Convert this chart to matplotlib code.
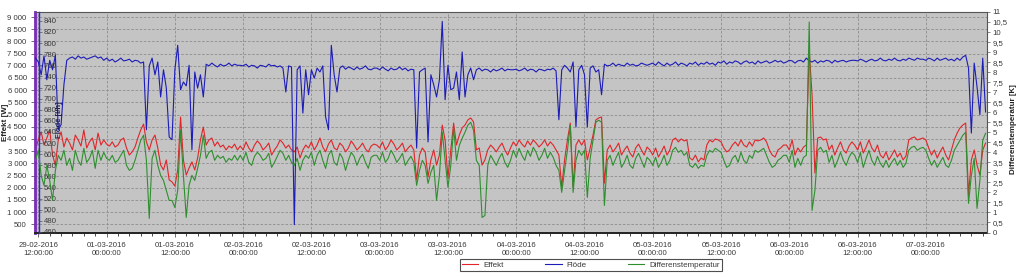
import matplotlib
matplotlib.use('Agg')
import matplotlib.pyplot as plt
import matplotlib.dates as mdates
from matplotlib.ticker import FuncFormatter
import numpy as np
import pandas as pd

plt.rcParams['font.family'] = ['Liberation Sans', 'DejaVu Sans']

# half-hour samples, 29-02-2016 11:30 -> 07-03-2016 10:30 (one row = 12 hours)
effekt = [
    3550, 3960, 4290, 3750, 4040, 4370, 3340, 2930, 3960, 4290, 3670, 4040, 3830, 3550, 4160, 3960, 3710, 4370, 3630, 3880, 4040, 3550, 4240, 3750,
    3960, 3790, 3710, 3880, 3670, 3750, 3960, 4040, 3630, 3340, 3470, 3670, 4040, 4370, 4610, 3880, 3550, 3960, 4160, 3630, 2930, 2730, 3140, 2320,
    2240, 2070, 2730, 4900, 3140, 2520, 2810, 3060, 2730, 3220, 3960, 4490, 3750, 3960, 4040, 3710, 3880, 3670, 3750, 3550, 3710, 3630, 3790, 3550,
    3710, 3550, 3880, 3630, 3470, 3750, 3920, 3790, 3550, 3670, 3830, 3340, 3550, 3710, 3960, 3830, 3630, 3750, 3550, 3470, 3670, 3220, 3550, 3750,
    3630, 3880, 3550, 3750, 4040, 3670, 3470, 3790, 3960, 3630, 3550, 3830, 3710, 3470, 3630, 3920, 3750, 3550, 3670, 3830, 3590, 3470, 3710, 3790,
    3750, 3630, 3880, 3550, 3710, 3960, 3790, 3550, 3670, 3830, 3470, 3630, 3750, 3550, 2320, 3340, 3630, 3470, 2440, 3140, 3550, 2930, 3340, 4570,
    3960, 2400, 3550, 4650, 3750, 4160, 4450, 4570, 4780, 4860, 4700, 3550, 3630, 2930, 3140, 3550, 3750, 3630, 3470, 3670, 3830, 3550, 3340, 3630,
    3880, 3710, 3960, 3790, 3670, 3920, 3750, 3960, 3830, 3670, 3790, 3960, 3710, 3880, 3750, 3550, 3340, 2030, 3140, 3960, 4650, 2030, 3750, 3960,
    3750, 3960, 3140, 3630, 4160, 4780, 4860, 4900, 2190, 3550, 3750, 3470, 3630, 3830, 3340, 3550, 3710, 3420, 3260, 3630, 3790, 3550, 3340, 3670,
    3550, 3340, 3630, 3260, 3470, 3710, 3340, 3550, 3960, 4040, 3880, 4000, 3920, 3960, 3220, 3140, 3340, 3060, 3220, 3140, 3750, 3960, 3880, 4000,
    3960, 3880, 3630, 3470, 3550, 3750, 3880, 3710, 3960, 3750, 3670, 3880, 3710, 3960, 3920, 3960, 4040, 3880, 3550, 3340, 3260, 3550, 3630, 3750,
    3750, 3550, 3960, 3340, 3630, 3470, 3670, 3750, 7650, 5800, 2600, 4040, 4080, 3960, 4000, 3550, 3750, 3340, 3630, 3880, 3550, 3420, 3710, 3880,
    3750, 3550, 3880, 3420, 3670, 3960, 3630, 3470, 3750, 3340, 3220, 3470, 3140, 3340, 3550, 3260, 3420, 3140, 3300, 3960, 4040, 4080, 3960, 4000,
    4040, 3960, 3630, 3340, 3550, 3220, 3470, 3670, 3340, 3140, 3550, 3960, 4240, 4450, 4570, 4650, 1700, 3140, 3550, 2930, 2520, 3550, 3830,
]
flode = [
    773, 766, 743, 777, 734, 769, 752, 778, 644, 653, 725, 769, 773, 775, 771, 777, 773, 775, 771, 773, 775, 777, 773, 775,
    769, 773, 768, 771, 766, 769, 773, 768, 769, 771, 766, 769, 768, 764, 766, 644, 759, 773, 743, 766, 703, 752, 719, 631,
    626, 752, 796, 716, 730, 723, 760, 608, 748, 719, 743, 703, 762, 759, 764, 760, 757, 762, 759, 760, 764, 759, 762, 760,
    760, 759, 762, 757, 760, 759, 755, 760, 759, 757, 762, 759, 760, 757, 759, 755, 712, 759, 757, 473, 752, 759, 674, 752,
    707, 752, 737, 755, 748, 759, 667, 644, 796, 743, 712, 755, 759, 753, 757, 755, 752, 757, 753, 755, 759, 753, 752, 755,
    755, 752, 757, 753, 750, 755, 752, 753, 757, 752, 755, 750, 753, 752, 611, 748, 752, 755, 622, 743, 725, 703, 734, 839,
    698, 760, 716, 719, 748, 698, 784, 703, 743, 755, 734, 752, 755, 750, 753, 752, 748, 753, 750, 752, 755, 750, 753, 752,
    752, 753, 750, 752, 755, 750, 753, 752, 748, 753, 752, 750, 753, 752, 755, 750, 662, 752, 760, 755, 748, 766, 649, 752,
    760, 743, 649, 755, 759, 748, 752, 707, 762, 759, 760, 764, 759, 762, 760, 759, 764, 760, 762, 759, 760, 764, 762, 760,
    762, 764, 760, 766, 762, 759, 764, 760, 762, 766, 760, 764, 762, 759, 764, 762, 766, 760, 764, 762, 766, 762, 764, 760,
    766, 764, 768, 762, 766, 764, 768, 766, 762, 766, 768, 764, 766, 762, 768, 764, 766, 768, 764, 766, 769, 766, 768, 764,
    766, 769, 768, 764, 768, 769, 766, 773, 768, 766, 769, 764, 768, 766, 769, 768, 764, 769, 766, 768, 769, 766, 768, 769,
    769, 768, 771, 769, 766, 769, 771, 768, 769, 773, 769, 768, 771, 769, 773, 769, 768, 771, 769, 773, 771, 769, 773, 771,
    771, 769, 773, 771, 768, 773, 769, 771, 773, 769, 771, 768, 773, 769, 775, 778, 755, 638, 764, 721, 671, 773, 676,
]
diff_temp = [
    3.6, 4.1, 2.85, 2.35, 3.35, 2.6, 1.6, 3.1, 3.85, 3.6, 4.1, 3.35, 3.7, 3.1, 4.1, 3.6, 3.35, 4.2, 3.5, 3.7, 4.1, 3.2, 4.1, 3.6,
    4.0, 3.7, 3.6, 3.85, 3.5, 3.6, 3.85, 4.1, 3.35, 3.1, 3.2, 3.6, 4.1, 4.6, 4.85, 3.6, 0.7, 3.7, 4.1, 3.35, 2.85, 2.6, 2.1, 1.6,
    1.6, 1.25, 2.1, 5.1, 2.85, 0.75, 2.35, 2.85, 2.6, 3.2, 3.85, 4.85, 3.7, 4.0, 4.1, 3.6, 3.85, 3.7, 3.8, 3.5, 3.7, 3.6, 3.85, 3.6,
    3.85, 3.6, 4.0, 3.5, 3.35, 3.8, 4.0, 3.85, 3.6, 3.7, 3.95, 3.25, 3.5, 3.8, 4.1, 3.95, 3.6, 3.85, 3.5, 3.35, 3.7, 3.1, 3.6, 3.85,
    3.7, 4.0, 3.35, 3.85, 4.1, 3.6, 3.2, 3.85, 4.1, 3.5, 3.35, 3.95, 3.7, 3.1, 3.6, 4.0, 3.8, 3.35, 3.7, 3.9, 3.5, 3.2, 3.75, 3.85,
    3.85, 3.6, 4.0, 3.5, 3.7, 4.1, 3.85, 3.5, 3.7, 3.95, 3.35, 3.6, 3.8, 3.5, 2.35, 3.1, 3.6, 3.35, 2.45, 3.0, 3.35, 1.6, 2.85, 5.0,
    3.6, 2.25, 3.35, 5.2, 3.6, 4.35, 4.7, 5.0, 5.35, 5.5, 5.1, 3.6, 3.35, 0.75, 0.85, 3.35, 3.85, 3.6, 3.35, 3.7, 3.95, 3.5, 3.25, 3.6,
    4.1, 3.75, 4.2, 3.85, 3.6, 4.1, 3.8, 4.25, 4.0, 3.6, 3.85, 4.2, 3.7, 4.0, 3.75, 3.35, 3.1, 2.0, 3.1, 4.1, 5.35, 2.0, 3.6, 4.1,
    3.85, 4.1, 1.75, 3.7, 4.6, 5.5, 5.6, 5.5, 1.35, 3.6, 3.85, 3.35, 3.7, 4.0, 3.25, 3.5, 3.85, 3.35, 3.2, 3.7, 3.95, 3.6, 3.25, 3.75,
    3.6, 3.35, 3.75, 3.25, 3.5, 3.85, 3.35, 3.6, 4.1, 4.25, 4.0, 4.1, 3.85, 4.0, 3.35, 3.25, 3.45, 3.2, 3.35, 3.3, 3.85, 4.1, 4.0, 4.2,
    4.1, 4.0, 3.6, 3.25, 3.35, 3.7, 3.85, 3.5, 4.0, 3.6, 3.45, 3.85, 3.7, 4.1, 4.0, 4.1, 4.2, 3.85, 3.5, 3.25, 3.35, 3.6, 3.7, 3.85,
    3.85, 3.5, 4.1, 3.25, 3.7, 3.35, 3.75, 3.85, 10.5, 1.1, 2.1, 4.1, 4.25, 4.0, 4.1, 3.5, 3.85, 3.25, 3.6, 4.0, 3.6, 3.35, 3.75, 4.0,
    3.85, 3.5, 4.0, 3.25, 3.7, 4.1, 3.6, 3.35, 3.8, 3.45, 3.25, 3.6, 3.25, 3.5, 3.7, 3.35, 3.6, 3.25, 3.45, 4.1, 4.25, 4.3, 4.1, 4.2,
    4.25, 4.1, 3.7, 3.35, 3.6, 3.25, 3.5, 3.75, 3.35, 3.25, 3.6, 4.1, 4.35, 4.6, 4.85, 5.0, 1.45, 2.85, 3.7, 1.2, 2.6, 4.6, 4.95,
]
series_names = ['Effekt', 'Flöde', 'Differenstemperatur']

times = pd.date_range('2016-02-29 11:30', periods=len(effekt), freq='30min')

TXT = '#3a3a3a'
FS = 5.6

fig = plt.figure(figsize=(10.22, 2.77), dpi=100)
ax = fig.add_axes([35 / 1022, 44.5 / 277, 952 / 1022, 220.5 / 277])
ax.set_facecolor('#c4c4c4')

l1, = ax.plot(times, effekt, color='#e0262a', lw=0.8)
ax.set_ylim(165, 9205)
ax.set_yticks(np.arange(500, 9001, 500))
ax.yaxis.set_major_formatter(FuncFormatter(lambda v, p: f'{int(v):,}'.replace(',', ' ')))
ax.set_xlim(pd.Timestamp('2016-02-29 11:25'), pd.Timestamp('2016-03-07 10:45'))
ax.xaxis.set_major_locator(mdates.HourLocator(byhour=[0, 12]))
ax.xaxis.set_major_formatter(mdates.DateFormatter('%d-%m-%Y\n%H:%M:%S'))
ax.xaxis.set_minor_locator(mdates.HourLocator(interval=2))
ax.grid(True, which='major', color='#8c8c8c', ls=(0, (3, 2)), lw=0.6)
ax.tick_params(axis='both', labelsize=FS, labelcolor=TXT, color='#555555', length=3, width=0.6)
ax.tick_params(axis='x', which='minor', length=2, width=0.5)
ax.tick_params(axis='x', pad=4)
ax.tick_params(axis='y', pad=3)
ax.set_ylabel('Effekt [W]', fontsize=5.8, fontweight='bold', color='#222222')
ax.yaxis.set_label_coords(-0.0272, 0.5)
ax.spines['left'].set_color('#7a2ab8')
ax.spines['left'].set_linewidth(2.0)
ax.spines['bottom'].set_color('#222222')
ax.spines['bottom'].set_linewidth(1.4)
ax.spines['top'].set_color('#555555')
ax.spines['right'].set_visible(False)
ax.axvline(pd.Timestamp('2016-02-29 11:27'), color='#d02020', lw=0.8)

# Flöde axis sits just inside the plot, labels drawn into it
ax_flow = ax.twinx()
l2, = ax_flow.plot(times, flode, color='#1c1cb8', lw=0.8)
ax_flow.set_ylim(459, 856)
ax_flow.set_yticks(np.arange(460, 841, 20))
ax_flow.spines['right'].set_position(('axes', 0.0042))
ax_flow.spines['right'].set_color('#2a2ad8')
ax_flow.spines['right'].set_linewidth(1.0)
for s in ['left', 'top', 'bottom']:
    ax_flow.spines[s].set_visible(False)
ax_flow.tick_params(axis='y', labelsize=FS, labelcolor=TXT, color='#555555', length=2, pad=1.5, width=0.5)
ax_flow.text(0.026, 0.51, 'Flöde [l/h]', transform=ax_flow.transAxes, rotation=90,
             ha='center', va='center', fontsize=5.6, fontweight='bold', color='#20205a')

ax_temp = ax.twinx()
l3, = ax_temp.plot(times, diff_temp, color='#2f8f2f', lw=0.8)
ax_temp.set_ylim(0, 11)
ax_temp.set_yticks(np.arange(0, 11.01, 0.5))
ax_temp.yaxis.set_major_formatter(FuncFormatter(lambda v, p: ('%g' % v).replace('.', ',')))
ax_temp.tick_params(axis='y', labelsize=FS, labelcolor=TXT, color='#555555', length=2, pad=2, width=0.5)
ax_temp.set_ylabel('Differenstemperatur [K]', fontsize=5.8, fontweight='bold', color='#222222')
ax_temp.yaxis.set_label_coords(1.024, 0.47)
for s in ['left', 'top', 'bottom']:
    ax_temp.spines[s].set_visible(False)
ax_temp.spines['right'].set_color('#555555')

leg = fig.legend([l1, l2, l3], series_names, loc='center', bbox_to_anchor=(591 / 1022, 1 - 265 / 277),
                 ncol=3, fontsize=5.8, frameon=True, fancybox=False, handlelength=2.0,
                 columnspacing=5.2, borderpad=0.3, handletextpad=0.6)
leg.get_frame().set_edgecolor('#222222')
leg.get_frame().set_linewidth(0.8)
for t in leg.get_texts():
    t.set_color(TXT)

fig.savefig('out.png', dpi=100)
